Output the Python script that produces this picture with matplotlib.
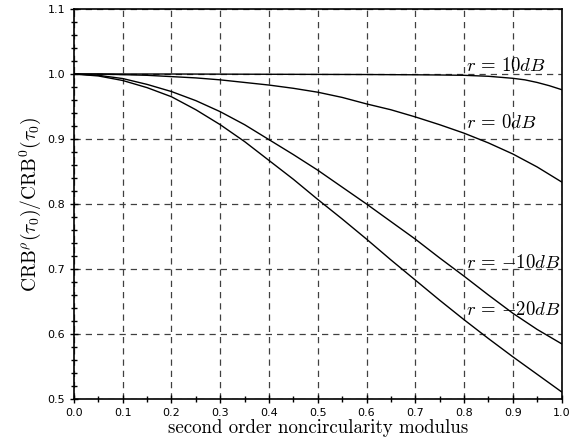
import numpy as np
import matplotlib
matplotlib.use('Agg')
import matplotlib.pyplot as plt
from matplotlib.ticker import MultipleLocator

plt.rcParams['mathtext.fontset'] = 'cm'

# 数据
rho = [0.0, 0.05, 0.1, 0.15, 0.2, 0.25, 0.3, 0.35, 0.4, 0.45, 0.5,
       0.55, 0.6, 0.65, 0.7, 0.75, 0.8, 0.85, 0.9, 0.95, 1.0]
rho_10 = [0.0, 0.1, 0.2, 0.3, 0.4, 0.5, 0.6, 0.65, 0.7, 0.75, 0.8,
          0.85, 0.9, 0.925, 0.95, 0.975, 1.0]
crb_10db = [1.0, 1.0, 1.0, 0.9998, 0.9996, 0.9994, 0.9992, 0.999, 0.9988, 0.9985, 0.998,
            0.9965, 0.9934, 0.991, 0.987, 0.982, 0.976]
crb_0db = [1.0, 1.0, 0.999, 0.998, 0.996, 0.994, 0.991, 0.987, 0.983, 0.978, 0.972,
           0.964, 0.954, 0.945, 0.934, 0.922, 0.909, 0.894, 0.877, 0.857, 0.834]
crb_m10db = [1.0, 0.998, 0.993, 0.984, 0.973, 0.959, 0.942, 0.922, 0.899, 0.876, 0.852,
             0.826, 0.800, 0.773, 0.746, 0.717, 0.689, 0.660, 0.632, 0.607, 0.585]
crb_m20db = [1.0, 0.997, 0.990, 0.979, 0.965, 0.945, 0.922, 0.896, 0.867, 0.838, 0.807,
             0.777, 0.746, 0.714, 0.683, 0.652, 0.622, 0.593, 0.565, 0.538, 0.511]

labels = [r'$r\,=\,10dB$', r'$r\,=\,0dB$', r'$r\,=\,{-}10dB$', r'$r\,=\,{-}20dB$']
label_y = [1.005, 0.917, 0.701, 0.629]

fig = plt.figure(figsize=(5.84, 4.44), dpi=100)
ax = fig.add_axes([0.1267, 0.1014, 0.8348, 0.8783])

ax.plot(rho_10, crb_10db, color='black', lw=1.0)
ax.plot(rho, crb_0db, color='black', lw=1.0)
ax.plot(rho, crb_m10db, color='black', lw=1.0)
ax.plot(rho, crb_m20db, color='black', lw=1.0)

for lab, yy in zip(labels, label_y):
    ax.text(0.805, yy, lab, fontsize=13.5, ha='left', va='baseline')

ax.set_xlim(0, 1.0)
ax.set_ylim(0.5, 1.1)
ax.xaxis.set_major_locator(MultipleLocator(0.1))
ax.xaxis.set_minor_locator(MultipleLocator(0.05))
ax.yaxis.set_major_locator(MultipleLocator(0.1))
ax.yaxis.set_minor_locator(MultipleLocator(0.02))
ax.xaxis.set_major_formatter(plt.FormatStrFormatter('%.1f'))
ax.yaxis.set_major_formatter(plt.FormatStrFormatter('%.1f'))
ax.tick_params(which='major', direction='inout', length=6, width=1, labelsize=8)
ax.tick_params(which='minor', direction='inout', length=4, width=1)

ax.grid(True, which='major', linestyle=(0, (5, 4)), color='0.25', lw=0.9)
for s in ax.spines.values():
    s.set_linewidth(1.2)

ax.set_xlabel('second order noncircularity modulus', fontsize=13.6, family='cmr10', labelpad=1)
ax.set_ylabel(r'$\mathrm{CRB}^{\rho}(\tau_0)/\mathrm{CRB}^{0}(\tau_0)$', fontsize=14, labelpad=3)

fig.savefig('out.png', dpi=100)
